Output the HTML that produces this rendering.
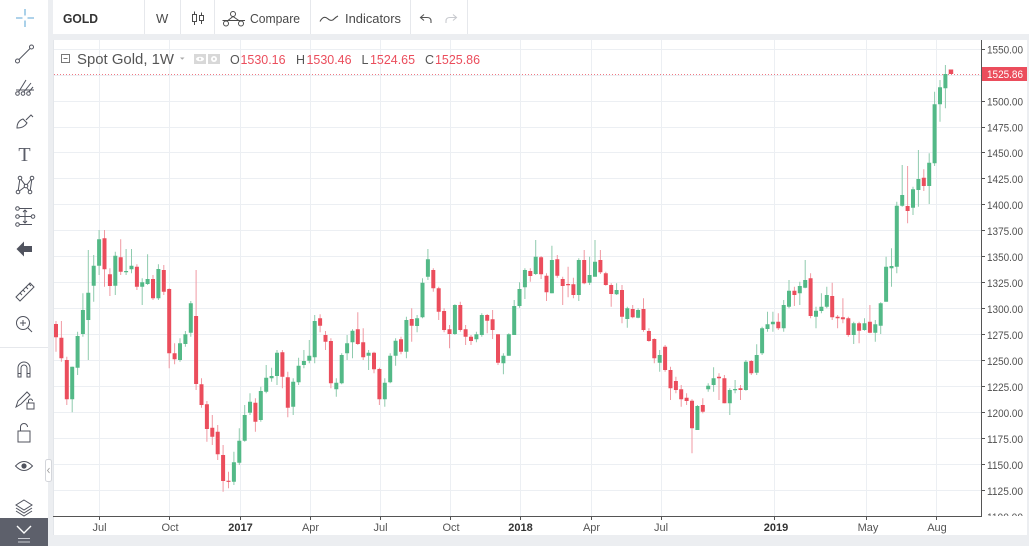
<!DOCTYPE html>
<html>
<head>
<meta charset="utf-8">
<style>
html,body{margin:0;padding:0;background:#eceef1;overflow:hidden;}
svg{display:block;}
</style>
</head>
<body>
<svg width="1029" height="546" viewBox="0 0 1029 546" xmlns="http://www.w3.org/2000/svg" font-family="'Liberation Sans', Arial, sans-serif">
<defs>
<clipPath id="plot"><rect x="54" y="40" width="927.5" height="476"/></clipPath>
<clipPath id="pax"><rect x="982" y="40" width="46" height="476"/></clipPath>
</defs>
<rect x="0" y="0" width="1029" height="546" fill="#eceef1"/>
<rect x="0" y="0" width="48" height="546" fill="#ffffff"/>
<rect x="53" y="0" width="976" height="34" fill="#ffffff"/>
<rect x="53" y="40" width="974" height="495" fill="#ffffff"/>
<path d="M53.5 40V535" stroke="#e3e6ea" stroke-width="1"/>

<g stroke="#e6e8ec" stroke-width="1">
<path d="M144.5 0V34M180.5 0V34M214.5 0V34M310.5 0V34M410.5 0V34M467.5 0V34"/>
</g>
<text x="63" y="23" font-size="13" font-weight="bold" fill="#333" textLength="35" lengthAdjust="spacingAndGlyphs">GOLD</text>
<text x="156" y="23" font-size="13" fill="#4a4a4a">W</text>
<g stroke="#4a4a4a" stroke-width="1" fill="none">
<path d="M194.5 11.5V25M201.5 12.5V24"/>
<rect x="192.5" y="14.5" width="4" height="7" fill="#fff"/>
<rect x="199.5" y="15.5" width="4" height="5" fill="#fff"/>
</g>
<g stroke="#4a4a4a" stroke-width="1" fill="#fff">
<path d="M233 16.5L226 22M233 16.5L241 22M222.5 20.5H245" fill="none"/>
<circle cx="233" cy="14" r="2.5"/>
<circle cx="226" cy="23.5" r="2.5"/>
<circle cx="241" cy="23.5" r="2.5"/>
</g>
<text x="250" y="23" font-size="13" fill="#4a4a4a" textLength="50" lengthAdjust="spacingAndGlyphs">Compare</text>
<path d="M320 21.5Q323.5 15 327.5 18.5T334 19Q336 17 338 16" stroke="#4a4a4a" stroke-width="1.1" fill="none"/>
<text x="345" y="23" font-size="13" fill="#4a4a4a" textLength="56" lengthAdjust="spacingAndGlyphs">Indicators</text>
<path d="M424 14.5L420.5 17.5L424 20.5M421 17.5H427Q431 17.5 431 21V23" stroke="#555" stroke-width="1.1" fill="none"/>
<path d="M453 14.5L456.5 17.5L453 20.5M456 17.5H450Q446 17.5 446 21V23" stroke="#c8cacf" stroke-width="1.1" fill="none"/>

<g stroke="#eceff3" stroke-width="1">
<path d="M54 49.5H981M54 75.5H981M54 101.5H981M54 127.5H981M54 152.5H981M54 178.5H981M54 204.5H981M54 230.5H981M54 256.5H981M54 282.5H981M54 308.5H981M54 334.5H981M54 360.5H981M54 386.5H981M54 412.5H981M54 438.5H981M54 464.5H981M54 490.5H981"/>
<path d="M99.5 40V516M169.5 40V516M240.5 40V516M310.5 40V516M380.5 40V516M450.5 40V516M520.5 40V516M591.5 40V516M661.5 40V516M774.5 40V516M866.5 40V516M936.5 40V516"/>
</g>

<g clip-path="url(#plot)">
<path d="M54 74.5H981" stroke="#eb4d5c" stroke-width="1" stroke-dasharray="1 2" opacity="0.75"/>
<path stroke="#8fcbae" stroke-width="1" fill="none" d="M72.2 366.7V412.3M77.6 331.7V375M82.9 293.3V336.7M88.3 250V360M93.7 255V301.7M99.1 230V275M115.3 251.7V295M126.1 249V275M131.5 249V273.3M142.2 278.3V305M147.6 254.3V285M158.4 264.3V300M180 338.3V361.7M185.4 331V346.7M190.8 301V336.7M233.9 451.7V485M239.3 428.3V465M244.7 405V441.7M250 393.3V415M260.8 386.7V421.7M266.2 365V393.3M271.6 367.7V381.7M277 350V385M293.2 378.3V415M298.6 357.7V385M303.9 350V368.3M309.3 340V363.3M314.7 315V363.3M336.3 378.3V396.7M341.7 353.3V384.3M347.1 335V360M352.5 329.3V358.3M368.6 350V370M384.8 378.3V406.7M390.2 353.3V383.3M395.6 338.3V365.7M406.4 316.7V358.3M417.1 315V332.3M422.5 278.3V318.3M427.9 249V280M454.9 304.3V335M476.4 331.7V342.3M481.8 313.3V336.7M503.4 353.3V374.3M508.8 333.3V355.7M514.2 300V335M519.5 282.3V307.7M524.9 268.3V299M535.7 240V275M551.9 245.7V293.3M578.8 258.3V301M589.6 256.7V285M595 240V276.7M616.6 283.3V295M627.3 306.7V327.7M638.1 308.3V318.3M659.7 350V371.7M697.4 405V430M708.2 383.3V391.7M713.6 367.3V391.7M729.8 388.3V415M735.1 380V393.3M745.9 360V390.7M756.7 344.3V375M762.1 326.7V355M767.5 311.7V331.7M772.9 311.7V331.7M783.7 300V331.7M789 280V308.3M799.8 281.7V305M805.2 260V288.3M816 306.7V328.3M821.4 293.3V313.3M826.8 286.7V308.3M853.7 321.7V344M864.5 318.3V330.7M875.3 320V341.7M880.7 302.3V334M886.1 256.7V301.7M891.5 248.3V286.7M896.8 201.7V273.3M902.2 165V206.7M913 186.7V215M918.4 150V206.7M929.2 153.3V204M934.6 91.7V166M940 80V121.7M945.4 65V108.3"/>
<path stroke="#f09aa3" stroke-width="1" fill="none" d="M56 321V351.7M61.4 321V361.7M66.8 356.7V405M104.5 230V286.7M109.9 268.3V296M120.7 239.3V275M136.9 264.3V290M153 275V300M163.8 265V295M169.2 288.3V368.3M174.6 343.3V364.3M196.1 270V390M201.5 378.3V407.7M206.9 401V441.7M212.3 415V445M217.7 425V460M223.1 445V491.7M228.5 471.7V488.3M255.4 398.3V431.7M282.4 350V388.3M287.8 371.7V417.3M320.1 314.3V332.3M325.5 331V350M330.9 338.3V388.3M357.8 312.3V345M363.2 328.3V360M374 351.7V373.3M379.4 367.7V405M401 336.7V354.3M411.7 308.3V341.7M433.3 268.3V291.7M438.7 286.7V320M444.1 308.3V332.3M449.5 325V348.3M460.3 301.7V331.7M465.6 325V345M471 335V345M487.2 314V333.3M492.6 310V339M498 334.3V365M530.3 268.3V281.7M541.1 256V279M546.5 273.3V301M557.3 255V277.7M562.7 276.7V305M568.1 266.7V297.3M573.4 277.7V298.3M584.2 250V284.3M600.4 250V274M605.8 271.7V285.7M611.2 283.3V306.7M622 285V323.3M632.7 305V318.3M643.5 298.3V331.7M648.9 328.3V341.7M654.3 338.3V363.3M665.1 345V371.7M670.5 366.7V400M675.9 376.7V393.3M681.2 385V406.7M686.6 393.3V405M692 399.3V453.3M702.8 398.3V413.3M719 373.3V400M724.4 375V403.3M740.5 385V400M751.3 360V375M778.3 313.3V330M794.4 286.7V306M810.6 273.3V318.3M832.2 282.7V320M837.6 315V328.3M842.9 298.3V323.3M848.3 316.7V336.7M859.1 321.7V343.3M869.9 305V333.3M907.6 166V223.3M923.8 169.3V191"/>
<path fill="#53b987" d="M70.2 366.7h4v32.6h-4zM75.6 336h4v31.7h-4zM80.9 310h4v24h-4zM86.3 292.7h4v27.3h-4zM91.7 265.7h4v20h-4zM97.1 239.3h4v26.4h-4zM113.3 255.7h4v30h-4zM124.1 271h4v1.3h-4zM129.5 265.7h4v3.6h-4zM140.2 282.3h4v4.4h-4zM145.6 279h4v5h-4zM156.4 269h4v29.3h-4zM178 343.3h4v16.7h-4zM183.4 334.3h4v9.7h-4zM188.8 303.3h4v29.4h-4zM231.9 462.3h4v19.4h-4zM237.3 440.7h4v22h-4zM242.7 415h4v25.7h-4zM248 401.7h4v11h-4zM258.8 391h4v29h-4zM264.2 377.7h4v14h-4zM269.6 376h4v2.3h-4zM275 352.7h4v23.3h-4zM291.2 381.7h4v25h-4zM296.6 365.7h4v16.6h-4zM301.9 361h4v4h-4zM307.3 355.7h4v5h-4zM312.7 321h4v36.3h-4zM334.3 382.7h4v6.6h-4zM339.7 355h4v28.3h-4zM345.1 343.3h4v10h-4zM350.5 330.7h4v11.6h-4zM366.6 352.7h4v3h-4zM382.8 382.7h4v16.6h-4zM388.2 355.7h4v26.6h-4zM393.6 340.7h4v15h-4zM404.4 320h4v31.7h-4zM415.1 318.3h4v7.7h-4zM420.5 282.7h4v34.6h-4zM425.9 259.3h4v17.4h-4zM452.9 305h4v29h-4zM474.4 334.3h4v5h-4zM479.8 315h4v20h-4zM501.4 355.7h4v7.6h-4zM506.8 334.3h4v21.4h-4zM512.2 306h4v29h-4zM517.5 289h4v17h-4zM522.9 270h4v17.3h-4zM533.7 256.7h4v17.3h-4zM549.9 260h4v33.3h-4zM576.8 260h4v35h-4zM587.6 275h4v7.7h-4zM593 261.7h4v15h-4zM614.6 290h4v4.3h-4zM625.3 308.3h4v10.7h-4zM636.1 310h4v7.7h-4zM657.7 355h4v7.7h-4zM695.4 406h4v24h-4zM706.2 385.7h4v3.6h-4zM711.6 378.3h4v6.7h-4zM727.8 390h4v13.3h-4zM733.1 389h4v1.2h-4zM743.9 361.7h4v28.3h-4zM754.7 355h4v17.7h-4zM760.1 328.3h4v25h-4zM765.5 324.3h4v4.7h-4zM770.9 321.7h4v2.6h-4zM781.7 305h4v23.3h-4zM787 290.7h4v16h-4zM797.8 286h4v7.3h-4zM803.2 280h4v7.7h-4zM814 310.7h4v6h-4zM819.4 306.7h4v4.3h-4zM824.8 295h4v11.7h-4zM851.7 323.3h4v11.7h-4zM862.5 323.3h4v6.7h-4zM873.3 324.3h4v8.4h-4zM878.7 303.3h4v22.4h-4zM884.1 266.7h4v35h-4zM889.5 266h4v2.3h-4zM894.8 205.7h4v61h-4zM900.2 195h4v10.7h-4zM911 189.3h4v18.4h-4zM916.4 179h4v11h-4zM927.2 162.7h4v23.3h-4zM932.6 104.3h4v59h-4zM938 87.3h4v17h-4zM943.4 74h4v14.3h-4z"/>
<path fill="#eb4d5c" d="M54 324h4v13.3h-4zM59.4 337.7h4v20.6h-4zM64.8 360h4v39.3h-4zM102.5 238.3h4v31h-4zM107.9 274.3h4v11.7h-4zM118.7 257.3h4v14.4h-4zM134.9 266.7h4v20h-4zM151 279h4v19.3h-4zM161.8 270h4v21.7h-4zM167.2 289h4v64.3h-4zM172.6 353.3h4v6h-4zM194.1 316h4v68h-4zM199.5 384.3h4v20.7h-4zM204.9 404.3h4v24.7h-4zM210.3 427.7h4v9h-4zM215.7 431.7h4v22.6h-4zM221.1 455h4v26h-4zM226.5 480.7h4v1.2h-4zM253.4 402.7h4v19h-4zM280.4 352.3h4v24.4h-4zM285.8 377.3h4v30.4h-4zM318.1 318.3h4v7.4h-4zM323.5 335h4v6.7h-4zM328.9 341h4v42.3h-4zM355.8 329.3h4v14.7h-4zM361.2 342.3h4v15h-4zM372 352.7h4v16.6h-4zM377.4 369h4v30.3h-4zM399 339.3h4v12.4h-4zM409.7 319h4v6.7h-4zM431.3 270h4v18.3h-4zM436.7 288.3h4v23.4h-4zM442.1 311h4v19h-4zM447.5 329.3h4v4.7h-4zM458.3 305h4v25h-4zM463.6 329.3h4v7.4h-4zM469 336.7h4v4.3h-4zM485.2 315h4v5.7h-4zM490.6 319.3h4v10.7h-4zM496 334.3h4v28.4h-4zM528.3 271h4v5h-4zM539.1 257.3h4v17h-4zM544.5 275.7h4v16.6h-4zM555.3 259.3h4v16.4h-4zM560.7 279h4v7h-4zM566.1 284h4v1.2h-4zM571.4 284.3h4v10.7h-4zM582.2 260h4v23.3h-4zM598.4 260h4v12.3h-4zM603.8 273.3h4v11.7h-4zM609.2 285h4v9h-4zM620 290h4v26.7h-4zM630.7 309h4v8.3h-4zM641.5 309h4v21h-4zM646.9 331h4v10h-4zM652.3 339h4v19.3h-4zM663.1 346.7h4v23.3h-4zM668.5 370h4v18.3h-4zM673.9 381h4v9h-4zM679.2 389.3h4v10h-4zM684.6 397.7h4v3.3h-4zM690 400.7h4v27.6h-4zM700.8 405h4v6.7h-4zM717 376.7h4v1.6h-4zM722.4 378.3h4v25h-4zM738.5 388.3h4v1.7h-4zM749.3 361h4v12.3h-4zM776.3 321.7h4v6.6h-4zM792.4 290.7h4v4.3h-4zM808.6 278.3h4v37.7h-4zM830.2 296h4v21.3h-4zM835.6 316.7h4v1.6h-4zM840.9 317.3h4v2h-4zM846.3 318.3h4v16.7h-4zM857.1 323.3h4v7.4h-4zM867.9 321.7h4v11h-4zM905.6 206h4v5h-4zM921.8 177.7h4v8.3h-4zM948.7 69.5h4.5v4.5h-4.5z"/>
</g>

<path d="M981.5 40V516.5M53 516.5H982" stroke="#555" stroke-width="1"/>
<path stroke="#555" stroke-width="1" d="M982 49.5h3M982 101.5h3M982 127.5h3M982 152.5h3M982 178.5h3M982 204.5h3M982 230.5h3M982 256.5h3M982 282.5h3M982 308.5h3M982 334.5h3M982 360.5h3M982 386.5h3M982 412.5h3M982 438.5h3M982 464.5h3M982 490.5h3"/>
<g clip-path="url(#pax)" font-size="11" fill="#505050">
<text x="987" y="53.5" textLength="36" lengthAdjust="spacingAndGlyphs">1550.00</text>
<text x="987" y="105.5" textLength="36" lengthAdjust="spacingAndGlyphs">1500.00</text>
<text x="987" y="131.5" textLength="36" lengthAdjust="spacingAndGlyphs">1475.00</text>
<text x="987" y="157" textLength="36" lengthAdjust="spacingAndGlyphs">1450.00</text>
<text x="987" y="183" textLength="36" lengthAdjust="spacingAndGlyphs">1425.00</text>
<text x="987" y="209" textLength="36" lengthAdjust="spacingAndGlyphs">1400.00</text>
<text x="987" y="235" textLength="36" lengthAdjust="spacingAndGlyphs">1375.00</text>
<text x="987" y="261" textLength="36" lengthAdjust="spacingAndGlyphs">1350.00</text>
<text x="987" y="287" textLength="36" lengthAdjust="spacingAndGlyphs">1325.00</text>
<text x="987" y="313" textLength="36" lengthAdjust="spacingAndGlyphs">1300.00</text>
<text x="987" y="339" textLength="36" lengthAdjust="spacingAndGlyphs">1275.00</text>
<text x="987" y="365" textLength="36" lengthAdjust="spacingAndGlyphs">1250.00</text>
<text x="987" y="391" textLength="36" lengthAdjust="spacingAndGlyphs">1225.00</text>
<text x="987" y="417" textLength="36" lengthAdjust="spacingAndGlyphs">1200.00</text>
<text x="987" y="443" textLength="36" lengthAdjust="spacingAndGlyphs">1175.00</text>
<text x="987" y="469" textLength="36" lengthAdjust="spacingAndGlyphs">1150.00</text>
<text x="987" y="495" textLength="36" lengthAdjust="spacingAndGlyphs">1125.00</text>
<text x="987" y="521" textLength="36" lengthAdjust="spacingAndGlyphs">1100.00</text>
</g>
<rect x="982" y="67" width="45" height="14" fill="#eb4d5c"/>
<text x="987" y="78" font-size="11" fill="#ffffff" textLength="36" lengthAdjust="spacingAndGlyphs">1525.86</text>

<path stroke="#555" stroke-width="1" d="M99.5 517v3M169.5 517v3M240.5 517v3M310.5 517v3M380.5 517v3M450.5 517v3M520.5 517v3M591.5 517v3M661.5 517v3M774.5 517v3M866.5 517v3M936.5 517v3"/>
<g font-size="11" fill="#555" text-anchor="middle">
<text x="99.5" y="531">Jul</text>
<text x="170" y="531">Oct</text>
<text x="240.5" y="531" font-weight="bold" fill="#333">2017</text>
<text x="310.5" y="531">Apr</text>
<text x="380.5" y="531">Jul</text>
<text x="451" y="531">Oct</text>
<text x="520.5" y="531" font-weight="bold" fill="#333">2018</text>
<text x="591.5" y="531">Apr</text>
<text x="661" y="531">Jul</text>
<text x="776" y="531" font-weight="bold" fill="#333">2019</text>
<text x="868" y="531">May</text>
<text x="937" y="531">Aug</text>
</g>

<rect x="61.5" y="54.5" width="8" height="8" fill="#fff" stroke="#777" stroke-width="1"/>
<path d="M63.5 58.5h4" stroke="#777" stroke-width="1"/>
<text x="77" y="64" font-size="15" fill="#555" textLength="97" lengthAdjust="spacingAndGlyphs">Spot Gold, 1W</text>
<path d="M180 57.5h4.5l-2.25 2.2z" fill="#aaa"/>
<rect x="194" y="54" width="12" height="10" fill="#d8d8d8"/>
<ellipse cx="200" cy="59" rx="4" ry="2.3" fill="#fff"/>
<circle cx="200" cy="59" r="1.2" fill="#d8d8d8"/>
<rect x="208" y="54" width="12" height="10" fill="#d8d8d8"/>
<circle cx="214" cy="59" r="3" fill="#fff"/>
<circle cx="214" cy="59" r="1.2" fill="#d8d8d8"/>
<g font-size="12.5">
<text x="230" y="64" fill="#555">O</text>
<text x="240.5" y="64" fill="#eb4d5c" textLength="45" lengthAdjust="spacingAndGlyphs">1530.16</text>
<text x="296" y="64" fill="#555">H</text>
<text x="306.5" y="64" fill="#eb4d5c" textLength="45" lengthAdjust="spacingAndGlyphs">1530.46</text>
<text x="361.5" y="64" fill="#555">L</text>
<text x="370" y="64" fill="#eb4d5c" textLength="45" lengthAdjust="spacingAndGlyphs">1524.65</text>
<text x="425" y="64" fill="#555">C</text>
<text x="435" y="64" fill="#eb4d5c" textLength="45" lengthAdjust="spacingAndGlyphs">1525.86</text>
</g>

<path d="M25 9v6.5M25 20.5v6.5M16 18h6.5M27.5 18h6.5" stroke="#7db8dd" stroke-width="1.3" fill="none"/>
<g stroke="#50535e" stroke-width="1" fill="#fff">
<path d="M19 59.5L30 48.5" fill="none"/>
<circle cx="17.5" cy="61" r="2"/>
<circle cx="31.5" cy="47" r="2"/>
<path d="M18 93L26 80M23 93L31 83M28 93L33 87M16 90L34 90" fill="none"/>
<circle cx="17.5" cy="93.5" r="1.8"/>
<circle cx="23" cy="93.5" r="1.8"/>
<circle cx="28.5" cy="93.5" r="1.8"/>
<path d="M17 128Q17 121 23 119L27 123Q24 128 17 128Z"/>
<path d="M26 120L31 115L33 117" fill="none"/>
<path d="M18 192L20 178L30 192L32 178L26 186L18 192M20 178L26 186" fill="none"/>
<circle cx="18" cy="192" r="1.8"/>
<circle cx="20" cy="178" r="1.8"/>
<circle cx="26" cy="186" r="1.8"/>
<circle cx="30" cy="192" r="1.8"/>
<circle cx="32" cy="178" r="1.8"/>
<path d="M19 208.5H32M19 216.5H32M19 224.5H32M25 210V223M23 212L25 210L27 212M23 221L25 223L27 221" fill="none"/>
<circle cx="17.5" cy="208.5" r="1.8"/>
<circle cx="17.5" cy="216.5" r="1.8"/>
<circle cx="17.5" cy="224.5" r="1.8"/>
<circle cx="33" cy="216.5" r="1.8"/>
<path d="M16 297L30 283L34 287L20 301Z"/>
<path d="M20 293l2 2M23 290l2 2M26 287l2 2M29 284l2 2" fill="none"/>
<circle cx="23" cy="323" r="6.5"/>
<path d="M28 328L32 332M20 323h6M23 320v6" fill="none"/>
<path d="M18 377V368A6 6 0 0 1 30 368V377H27V368A3 3 0 0 0 21 368V377Z"/>
<path d="M18 373.5h3M27 373.5h3" fill="none"/>
<path d="M16 407L18 401L27 392L30 395L21 404Z"/>
<rect x="27" y="403" width="7" height="6"/>
<path d="M28.5 403v-2a2 2 0 0 1 4 0" fill="none"/>
<rect x="18" y="431" width="12" height="11"/>
<path d="M20.5 431v-4a3.5 3.5 0 0 1 7 0" fill="none"/>
<path d="M15.5 466Q24 457 32.5 466Q24 475 15.5 466Z"/>
<path d="M24 500L32 505L24 510L16 505Z"/>
<path d="M16 508L24 513L32 508M16 511L24 516L32 511" fill="none"/>
</g>
<circle cx="24" cy="466" r="2.6" fill="#50535e"/>
<text x="24.5" y="161" font-size="20" font-family="'Liberation Serif', serif" fill="#5a5d68" text-anchor="middle">T</text>
<path d="M16.5 249L24 241.5V246H32V252H24V256.5Z" fill="#50535e"/>
<path d="M0 347.5H48" stroke="#e6e8ec" stroke-width="1"/>
<rect x="0" y="518" width="48" height="28" fill="#5d606b"/>
<path d="M17 526L24 533L31 526" stroke="#fff" stroke-width="1.4" fill="none"/>
<path d="M18 538.5H30M18 542H30" stroke="#c9cbd1" stroke-width="1" fill="none"/>
<rect x="45.5" y="459.5" width="6" height="22" rx="2" fill="#fff" stroke="#d4d6db" stroke-width="1"/>
<path d="M49.5 468L47.5 470.5L49.5 473" stroke="#999" stroke-width="0.8" fill="none"/>
</svg>
</body>
</html>
